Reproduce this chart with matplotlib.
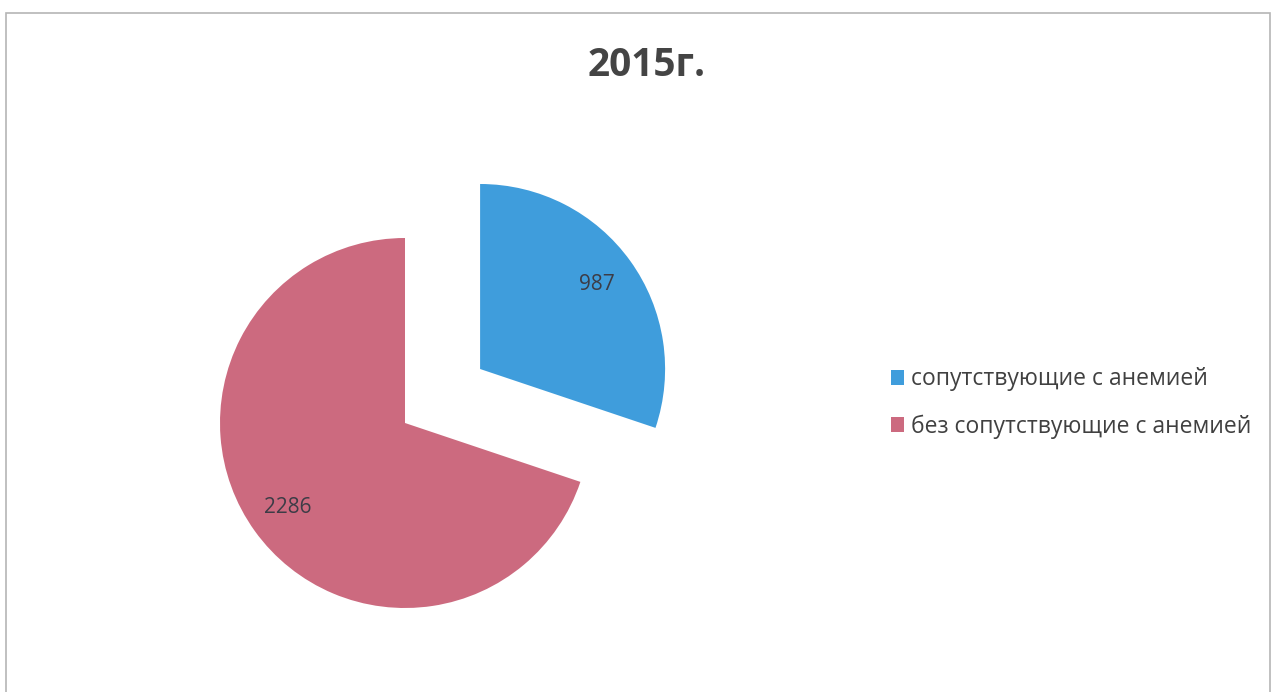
import matplotlib.pyplot as plt
from matplotlib.patches import Rectangle

# data
labels = ['сопутствующие с анемией', 'без сопутствующие с анемией']
values = [987, 2286]
colors = ['#3f9ddc', '#cc6a7f']
title = '2015г.'

plt.rcParams['font.family'] = ['Open Sans', 'DejaVu Sans']

fig = plt.figure(figsize=(12.75, 6.92), dpi=100)
fig.patch.set_facecolor('white')

# axes in pixel units (y up)
ax = fig.add_axes([0, 0, 1, 1])

r = 185
wedges, texts, autotexts = ax.pie(
    values, colors=colors, startangle=90, counterclock=False,
    explode=[0.5 * r, 0], radius=r, center=(405, 692 - 423),
    autopct=lambda p: '{:.0f}'.format(p * sum(values) / 100),
    pctdistance=0.78, textprops={'fontsize': 15, 'color': '#3c3c46'})

ax.set_xlim(0, 1275)
ax.set_ylim(0, 692)
ax.set_aspect('equal')
ax.axis('off')

# chart border
ax.add_patch(Rectangle((6, -5), 1264, 692 - 13 + 5, fill=False,
                       edgecolor='#b5b5b5', linewidth=1.2))

ax.text(647, 692 - 66, title, ha='center', va='center',
        fontsize=28, fontweight='bold', color='#444444')

leg = ax.legend(wedges, labels, loc='center left',
                bbox_to_anchor=(870 / 1275, 1 - 403 / 692),
                frameon=False, fontsize=16.5, handlelength=0.6,
                handleheight=0.6, handletextpad=0.3, labelspacing=1.0,
                labelcolor='#404040')

plt.savefig('out.png', dpi=100)
